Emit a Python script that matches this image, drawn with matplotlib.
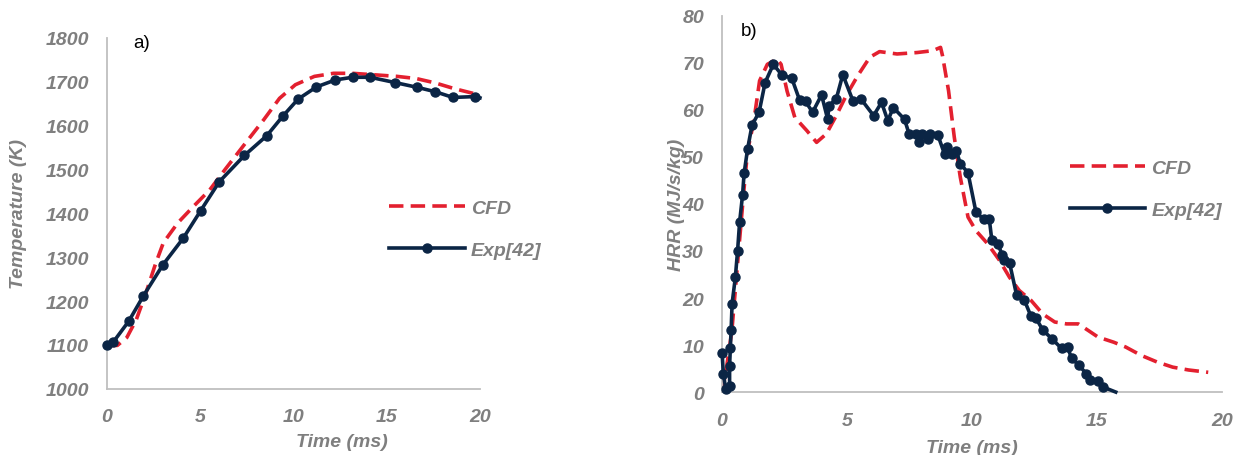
import matplotlib.pyplot as plt

# a) temperature
t_exp_T = [0.0, 0.32, 1.16, 1.95, 3.0, 4.08, 5.02, 6.02, 7.37, 8.57, 9.42, 10.24,
           11.23, 12.25, 13.17, 14.11, 15.44, 16.64, 17.61, 18.55, 19.74, 20.0]
T_exp = [1099, 1106, 1154, 1212, 1283, 1343, 1406, 1472, 1532, 1577, 1621, 1660,
         1688, 1704, 1710, 1710, 1698, 1687, 1677, 1664, 1666, 1663]
t_cfd_T = [0.0, 0.55, 1.06, 1.57, 2.08, 2.6, 3.02, 3.79, 4.64, 5.5, 6.35, 7.37, 8.4,
           9.25, 10.1, 11.12, 12.15, 13.17, 14.2, 15.56, 16.59, 17.61, 18.63, 19.66, 20.0]
T_cfd = [1099, 1099, 1117, 1158, 1218, 1285, 1333, 1378, 1416, 1453, 1501, 1557, 1613,
         1662, 1693, 1712, 1719, 1719, 1716, 1712, 1707, 1697, 1684, 1673, 1667]

# b) heat release rate
t_exp_H = [0.0, 0.05, 0.15, 0.3, 0.3, 0.33, 0.36, 0.4, 0.53, 0.62, 0.7, 0.82, 0.88,
           1.02, 1.2, 1.48, 1.72, 2.05, 2.38, 2.79, 3.1, 3.34, 3.62, 3.98, 4.22, 4.28,
           4.57, 4.83, 5.23, 5.56, 6.06, 6.38, 6.63, 6.85, 7.3, 7.48, 7.76, 7.87, 8.0,
           8.22, 8.31, 8.63, 8.9, 9.0, 9.21, 9.37, 9.53, 9.84, 10.16, 10.47, 10.69,
           10.79, 11.04, 11.2, 11.26, 11.5, 11.78, 12.09, 12.36, 12.55, 12.83, 13.2,
           13.58, 13.82, 13.98, 14.28, 14.57, 14.72, 15.04, 15.23, 15.75]
H_exp = [8.4, 3.8, 0.6, 1.3, 5.6, 9.4, 13.1, 18.8, 24.4, 30.1, 36.1, 42.0, 46.5,
         51.7, 56.8, 59.5, 65.8, 69.7, 67.5, 66.7, 62.1, 61.8, 59.5, 63.2, 58.1, 60.9,
         62.4, 67.5, 62.0, 62.3, 58.8, 61.6, 57.7, 60.5, 58.0, 54.9, 54.9, 53.1, 54.9,
         53.8, 54.9, 54.7, 50.6, 52.2, 50.6, 51.3, 48.6, 46.6, 38.2, 36.8, 36.8,
         32.4, 31.5, 29.2, 28.0, 27.5, 20.7, 19.6, 16.1, 15.8, 13.2, 11.3,
         9.3, 9.6, 7.2, 5.7, 3.9, 2.5, 2.3, 1.1, 0.0]
t_cfd_H = [0.0, 0.16, 0.39, 0.55, 0.71, 0.87, 1.02, 1.26, 1.5, 1.81, 2.2, 2.36, 2.6,
           2.91, 3.39, 3.78, 4.17, 4.57, 4.96, 5.43, 5.91, 6.3, 7.0, 7.8, 8.43, 8.74,
           8.82, 9.06, 9.29, 9.53, 9.84, 10.16, 10.63, 11.1, 11.5, 11.89, 12.36, 12.83,
           13.31, 13.78, 14.25, 14.65, 15.04, 15.67, 16.14, 16.77, 17.4, 18.03, 18.66, 19.45]
H_cfd = [0.0, 4.6, 13.0, 23.0, 33.0, 42.8, 51.3, 57.3, 66.2, 69.7, 70.8, 69.7, 64.0,
         58.4, 55.6, 53.1, 54.9, 58.8, 63.0, 67.3, 71.2, 72.4, 71.9, 72.2, 72.6, 73.3,
         71.5, 64.1, 54.2, 45.7, 37.2, 34.3, 31.5, 28.0, 24.4, 21.6, 19.5, 16.6,
         14.9, 14.5, 14.5, 13.1, 11.7, 10.6, 9.6, 7.8, 6.4, 5.3, 4.7, 4.2]

red = '#e3202f'
navy = '#0b2545'
grey = '#7f7f7f'
font = ['Liberation Sans', 'DejaVu Sans']
bi = dict(family=font, fontweight='bold', fontstyle='italic', color=grey)

fig = plt.figure(figsize=(12.45, 4.56), dpi=100)
ax1 = fig.add_axes([0.086, 0.145, 0.2995, 0.77])
ax2 = fig.add_axes([0.58, 0.138, 0.4015, 0.825])


def style(ax, xlabel, ylabel, xlab_x):
    for s in ['top', 'right']:
        ax.spines[s].set_visible(False)
    for s in ['left', 'bottom']:
        ax.spines[s].set_color('#bfbfbf')
        ax.spines[s].set_linewidth(1.3)
    ax.tick_params(length=0, labelcolor=grey)
    ax.tick_params(axis='y', pad=13)
    ax.tick_params(axis='x', pad=14)
    for lab in ax.get_xticklabels() + ax.get_yticklabels():
        lab.set_family(font)
        lab.set_fontsize(14)
        lab.set_fontweight('bold')
        lab.set_fontstyle('italic')
    ax.set_xlabel(xlabel, fontsize=14, **bi)
    ax.set_ylabel(ylabel, fontsize=14, **bi)
    ax.xaxis.set_label_coords(xlab_x, -0.125)


ax1.plot(t_cfd_T, T_cfd, color=red, lw=2.6, ls=(0, (4, 2)), label='CFD', zorder=2)
ax1.plot(t_exp_T, T_exp, color=navy, lw=2.6, marker='o', ms=6.5, clip_on=False,
         markevery=list(range(len(t_exp_T) - 1)), label='Exp[42]', zorder=3)
ax1.set_xlim(0, 20)
ax1.set_ylim(1000, 1800)
ax1.set_xticks([0, 5, 10, 15, 20])
ax1.set_yticks(range(1000, 1801, 100))
style(ax1, 'Time (ms)', 'Temperature (K)', 0.63)
ax1.yaxis.set_label_coords(-0.215, 0.5)
ax1.text(0.07, 1.01, 'a)', transform=ax1.transAxes, fontsize=13.5,
         family=font, va='top')

ax2.plot(t_cfd_H, H_cfd, color=red, lw=2.6, ls=(0, (4, 2)), label='CFD', zorder=2)
ax2.plot(t_exp_H, H_exp, color=navy, lw=2.6, marker='o', ms=6.5, clip_on=False,
         markevery=list(range(len(t_exp_H) - 1)), label='Exp[42]', zorder=3)
ax2.set_xlim(0, 20)
ax2.set_ylim(0, 80)
ax2.set_xticks([0, 5, 10, 15, 20])
ax2.set_yticks(range(0, 81, 10))
style(ax2, 'Time (ms)', 'HRR (MJ/s/kg)', 0.5)
ax2.yaxis.set_label_coords(-0.075, 0.5)
ax2.text(0.037, 0.985, 'b)', transform=ax2.transAxes, fontsize=13.5,
         family=font, va='top')

for ax, anchor in [(ax1, (0.71, 0.455)), (ax2, (0.66, 0.54))]:
    leg = ax.legend(loc='center left', bbox_to_anchor=anchor, frameon=False,
                    handlelength=3.9, labelspacing=1.25, handletextpad=0.3,
                    prop={'family': font, 'size': 14, 'weight': 'bold',
                          'style': 'italic'})
    for txt in leg.get_texts():
        txt.set_color(grey)

fig.savefig('out.png', dpi=100)
